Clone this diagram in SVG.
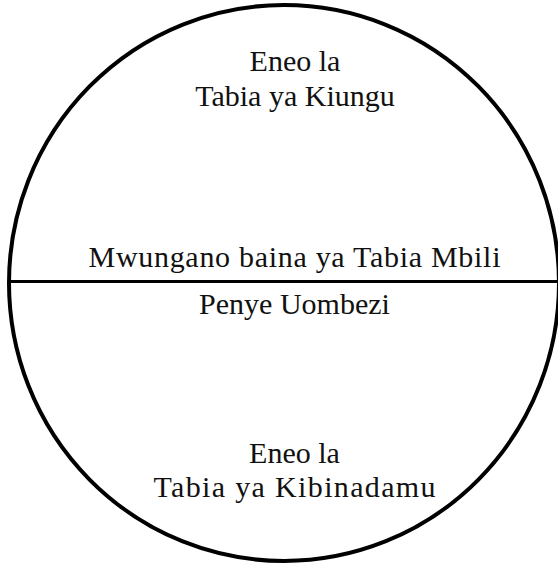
<svg xmlns="http://www.w3.org/2000/svg" width="558" height="565" viewBox="0 0 558 565">
<style>
text{font-family:'Liberation Serif','DejaVu Serif',serif;font-size:30px;fill:#111;text-anchor:middle}
.s{fill:none;stroke:#000}
</style>
<rect width="558" height="565" fill="#fff"/>
<g id="circle">
<ellipse class="s" cx="284" cy="283" rx="275" ry="278" stroke-width="4"/>
</g>
<g id="connectors">
<line class="s" x1="11" y1="281.5" x2="558" y2="281.5" stroke-width="3.2"/>
</g>
<g id="top">
<text x="295" y="71">Eneo la</text>
<text x="295" y="106">Tabia ya Kiungu</text>
</g>
<g id="middle">
<text x="294.5" y="267" textLength="412">Mwungano baina ya Tabia Mbili</text>
<text x="294.5" y="314">Penye Uombezi</text>
</g>
<g id="bottom">
<text x="294.5" y="463">Eneo la</text>
<text x="294.5" y="497" textLength="282">Tabia ya Kibinadamu</text>
</g>
</svg>
